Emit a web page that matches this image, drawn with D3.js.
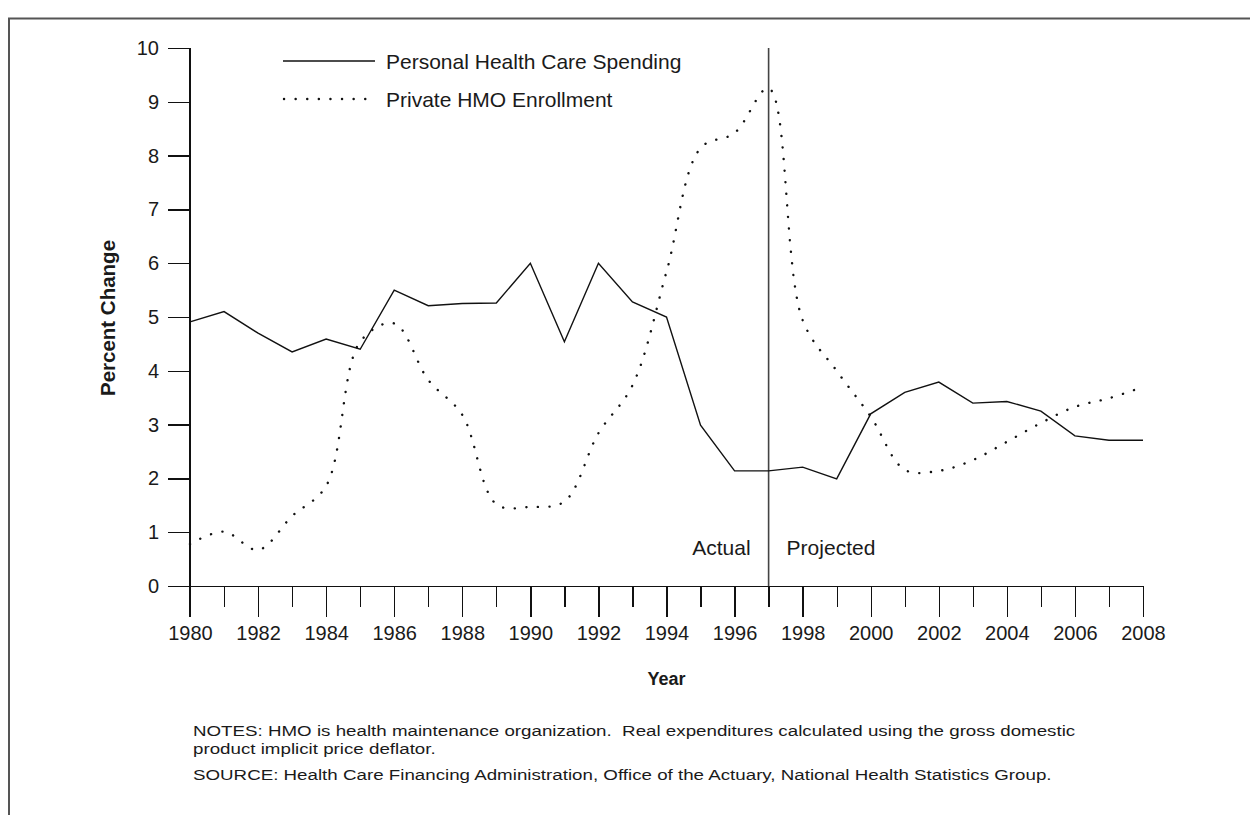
<!DOCTYPE html>
<html>
<head>
<meta charset="utf-8">
<script src="https://cdn.jsdelivr.net/npm/d3@7"></script>
<style>
  body { margin: 0; background: #fff; }
  svg { display: block; font-family: "Liberation Sans", Arial, sans-serif; }
  .axis path, .axis line { stroke: #111; stroke-width: 1.3; shape-rendering: crispEdges; }
  .axis text { font-size: 20px; fill: #1a1a1a; }
  text { white-space: pre; }
</style>
</head>
<body>
<svg id="chart" width="1250" height="815"></svg>
<script>
// years on the x axis
const years = d3.range(1980, 2009);
const yTicks = [0, 1, 2, 3, 4, 5, 6, 7, 8, 9, 10];

// percent change
const spending = [4.91, 5.1, 4.7, 4.35, 4.59, 4.4, 5.5, 5.21, 5.25, 5.26,
  6.0, 4.54, 6.0, 5.28, 5.0, 2.99, 2.14, 2.14, 2.21, 1.99,
  3.2, 3.6, 3.79, 3.4, 3.43, 3.25, 2.79, 2.71, 2.71];
const hmo = [0.78, 1.01, 0.67, 1.3, 1.86, 4.54, 4.88, 3.83, 3.18, 1.52,
  1.47, 1.57, 2.84, 3.73, 5.84, 8.14, 8.42, 9.25, 4.94, 4.0,
  3.15, 2.16, 2.14, 2.34, 2.68, 3.03, 3.33, 3.49, 3.7];

const seriesNames = ['Personal Health Care Spending', 'Private HMO Enrollment'];
const splitYear = 1997;
const notes = [
  'NOTES: HMO is health maintenance organization.  Real expenditures calculated using the gross domestic',
  'product implicit price deflator.',
  'SOURCE: Health Care Financing Administration, Office of the Actuary, National Health Statistics Group.'
];

const svg = d3.select('#chart');

function label (parent, x, y, str, size, anchor, bold, sx) {
  const g = parent.append('g')
    .attr('transform', 'translate(' + x + ',' + y + ') scale(' + (sx || 1) + ',1)');
  return g.append('text')
    .attr('font-size', size)
    .attr('font-weight', bold ? 'bold' : null)
    .attr('text-anchor', anchor || 'start')
    .attr('fill', '#1a1a1a')
    .text(str);
}

// frame (right and bottom run off the page)
svg.append('path')
  .attr('d', 'M9,830 L9,18.5 L1260,18.5')
  .attr('fill', 'none')
  .attr('stroke', '#555')
  .attr('stroke-width', 2);

const x = d3.scaleLinear().domain([1980, 2008]).range([190, 1143]);
const y = d3.scaleLinear().domain([0, 10]).range([586, 48]);

// y axis
svg.append('g')
  .attr('class', 'axis')
  .attr('transform', 'translate(' + x(1980) + ',0)')
  .call(d3.axisLeft(y).tickValues(yTicks).tickSize(22).tickPadding(9).tickSizeOuter(0))
  .call(g => g.select('.domain').attr('d', 'M0,' + y(10) + 'V' + (y(0) + 31)));

// x axis: short ticks every year, long labelled ticks every other year
svg.append('g')
  .attr('class', 'axis')
  .attr('transform', 'translate(0,' + y(0) + ')')
  .call(d3.axisBottom(x).tickValues(years.filter(d => d % 2)).tickSize(21).tickFormat('').tickSizeOuter(0));

svg.append('g')
  .attr('class', 'axis')
  .attr('transform', 'translate(0,' + y(0) + ')')
  .call(d3.axisBottom(x).tickValues(years.filter(d => d % 2 === 0)).tickSize(31).tickPadding(9)
    .tickFormat(d3.format('d')).tickSizeOuter(0));

// axis titles
svg.append('g')
  .attr('transform', 'translate(115,318) rotate(-90)')
  .append('text')
  .attr('text-anchor', 'middle')
  .attr('font-size', 20.5)
  .attr('font-weight', 'bold')
  .attr('fill', '#1a1a1a')
  .text('Percent Change');

label(svg, (x(1980) + x(2008)) / 2, 684.5, 'Year', 18, 'middle', true);

// actual / projected divider
svg.append('line')
  .attr('x1', x(splitYear)).attr('x2', x(splitYear))
  .attr('y1', y(10)).attr('y2', y(0))
  .attr('stroke', '#444')
  .attr('stroke-width', 1.6);

label(svg, x(splitYear) - 18, 554.5, 'Actual', 21, 'end');
label(svg, x(splitYear) + 18, 554.5, 'Projected', 21, 'start');

// lines
const solidLine = d3.line()
  .x((d, i) => x(years[i]))
  .y(d => y(d));

const dotLine = d3.line()
  .x((d, i) => x(years[i]))
  .y(d => y(d))
  .curve(d3.curveCatmullRom.alpha(0.5));

svg.append('path')
  .datum(spending)
  .attr('d', solidLine)
  .attr('fill', 'none')
  .attr('stroke', '#111')
  .attr('stroke-width', 1.4);

svg.append('path')
  .datum(hmo)
  .attr('d', dotLine)
  .attr('fill', 'none')
  .attr('stroke', '#111')
  .attr('stroke-width', 2.4)
  .attr('stroke-linecap', 'round')
  .attr('stroke-dasharray', '0.1,11.5');

// legend
const legend = svg.append('g').attr('transform', 'translate(283,0)');

legend.append('line')
  .attr('x1', 0).attr('x2', 92)
  .attr('y1', 61).attr('y2', 61)
  .attr('stroke', '#111')
  .attr('stroke-width', 1.4);

legend.append('line')
  .attr('x1', 1).attr('x2', 92)
  .attr('y1', 99).attr('y2', 99)
  .attr('stroke', '#111')
  .attr('stroke-width', 2.4)
  .attr('stroke-linecap', 'round')
  .attr('stroke-dasharray', '0.1,11.5');

seriesNames.forEach(function (d, i) {
  label(legend, 103, 68.5 + i * 38, d, 21);
});

// notes, set wide like the original
notes.forEach(function (d, i) {
  label(svg, 193, [736, 754, 780][i], d, 15, 'start', false, 1.25);
});
</script>
</body>
</html>
